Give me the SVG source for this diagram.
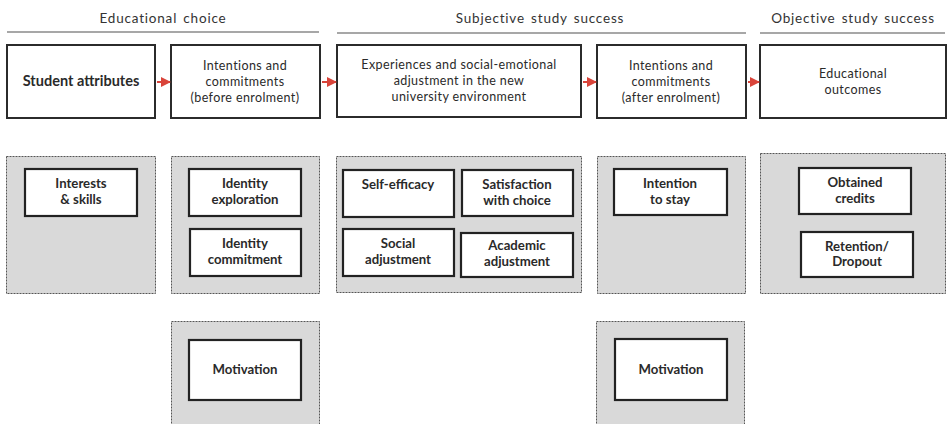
<svg xmlns="http://www.w3.org/2000/svg" width="950" height="424" viewBox="0 0 950 424">
  <defs>
    <marker id="arrow" viewBox="0 0 10 10" refX="9" refY="5" markerWidth="5" markerHeight="5" orient="auto">
      <path d="M0,0 L10,5 L0,10 z" fill="#d9443a"/>
    </marker>
    <style>
      text { font-family: Lato, "Open Sans", "Liberation Sans", sans-serif; fill: #2a2a2a; text-anchor: middle; }
      .hdr { font-size: 13.5px; fill: #333; letter-spacing: 0.8px; word-spacing: 2px; }
      .rule { stroke: #8a8a8a; stroke-width: 1.5; }
      .main { fill: #fff; stroke: #2b2b2b; stroke-width: 2; }
      .lbl { font-size: 12.5px; letter-spacing: 0.4px; }
      .big { font-size: 14.5px; font-weight: 700; }
      .panel { fill: #d9d9d9; stroke: #555; stroke-width: 1; stroke-dasharray: 2 1; }
      .inner { fill: #fff; stroke: #222; stroke-width: 2.2; }
      .in { font-size: 13.2px; font-weight: 700; }
      .conn { stroke: #d9443a; stroke-width: 2; fill: none; marker-end: url(#arrow); }
    </style>
  </defs>

  <!-- section headings -->
  <g id="headings">
    <text class="hdr" x="163" y="23">Educational choice</text>
    <line class="rule" x1="7" y1="32" x2="319" y2="32"/>
    <text class="hdr" x="540" y="23">Subjective study success</text>
    <line class="rule" x1="337" y1="33" x2="746" y2="33"/>
    <text class="hdr" x="853" y="23">Objective study success</text>
    <line class="rule" x1="760" y1="33" x2="945" y2="33"/>
  </g>

  <!-- top row of stages -->
  <g id="student-attributes">
    <rect class="main" x="7" y="45" width="148" height="73"/>
    <text class="big" x="81" y="86">Student attributes</text>
  </g>
  <g id="intentions-before">
    <rect class="main" x="171" y="45" width="149" height="73"/>
    <text class="lbl" x="245" y="70">Intentions  and</text>
    <text class="lbl" x="245" y="86">commitments</text>
    <text class="lbl" x="245" y="102">(before enrolment)</text>
  </g>
  <g id="experiences">
    <rect class="main" x="337" y="45" width="244" height="72"/>
    <text class="lbl" x="459" y="69">Experiences and social-emotional</text>
    <text class="lbl" x="459" y="85">adjustment in the new</text>
    <text class="lbl" x="459" y="101">university environment</text>
  </g>
  <g id="intentions-after">
    <rect class="main" x="597" y="45" width="149" height="73"/>
    <text class="lbl" x="671" y="70">Intentions  and</text>
    <text class="lbl" x="671" y="86">commitments</text>
    <text class="lbl" x="671" y="102">(after enrolment)</text>
  </g>
  <g id="educational-outcomes">
    <rect class="main" x="760" y="45" width="186" height="73"/>
    <text class="lbl" x="853" y="78">Educational</text>
    <text class="lbl" x="853" y="94">outcomes</text>
  </g>

  <!-- connectors between stages -->
  <g id="connectors">
    <line class="conn" x1="157" y1="82" x2="170" y2="82"/>
    <line class="conn" x1="322" y1="82" x2="336" y2="82"/>
    <line class="conn" x1="583" y1="82" x2="596" y2="82"/>
    <line class="conn" x1="748" y1="82" x2="759" y2="82"/>
  </g>

  <!-- factor panels -->
  <g id="panel-attributes">
    <rect class="panel" x="6.5" y="156.5" width="149" height="137"/>
    <g id="interests-skills">
      <rect class="inner" x="25" y="169" width="112" height="47"/>
      <text class="in" x="81" y="188">Interests</text>
      <text class="in" x="81" y="204">&amp; skills</text>
    </g>
  </g>

  <g id="panel-before">
    <rect class="panel" x="171.5" y="156.5" width="148" height="137"/>
    <g id="identity-exploration">
      <rect class="inner" x="189" y="169" width="112" height="47"/>
      <text class="in" x="245" y="188">Identity</text>
      <text class="in" x="245" y="204">exploration</text>
    </g>
    <g id="identity-commitment">
      <rect class="inner" x="190" y="229" width="111" height="47"/>
      <text class="in" x="245" y="248">Identity</text>
      <text class="in" x="245" y="264">commitment</text>
    </g>
  </g>

  <g id="panel-experiences">
    <rect class="panel" x="336.5" y="156.5" width="245" height="136"/>
    <g id="self-efficacy">
      <rect class="inner" x="343" y="170" width="111" height="47"/>
      <text class="in" x="398" y="189">Self-efficacy</text>
    </g>
    <g id="satisfaction">
      <rect class="inner" x="462" y="170" width="111" height="46"/>
      <text class="in" x="517" y="189">Satisfaction</text>
      <text class="in" x="517" y="205">with choice</text>
    </g>
    <g id="social-adjustment">
      <rect class="inner" x="343" y="229" width="111" height="47"/>
      <text class="in" x="398" y="248">Social</text>
      <text class="in" x="398" y="264">adjustment</text>
    </g>
    <g id="academic-adjustment">
      <rect class="inner" x="461" y="233" width="112" height="44"/>
      <text class="in" x="517" y="250">Academic</text>
      <text class="in" x="517" y="266">adjustment</text>
    </g>
  </g>

  <g id="panel-after">
    <rect class="panel" x="597.5" y="156.5" width="148" height="137"/>
    <g id="intention-stay">
      <rect class="inner" x="614" y="169" width="113" height="46"/>
      <text class="in" x="670" y="188">Intention</text>
      <text class="in" x="670" y="204">to stay</text>
    </g>
  </g>

  <g id="panel-outcomes">
    <rect class="panel" x="760.5" y="153.5" width="185" height="140"/>
    <g id="obtained-credits">
      <rect class="inner" x="799" y="168" width="112" height="46"/>
      <text class="in" x="855" y="187">Obtained</text>
      <text class="in" x="855" y="203">credits</text>
    </g>
    <g id="retention-dropout">
      <rect class="inner" x="801" y="232" width="112" height="45"/>
      <text class="in" x="857" y="251">Retention/</text>
      <text class="in" x="857" y="266">Dropout</text>
    </g>
  </g>

  <!-- motivation panels -->
  <g id="panel-motivation-before">
    <rect class="panel" x="171.5" y="321.5" width="148" height="104"/>
    <g id="motivation-before">
      <rect class="inner" x="189" y="340" width="112" height="60"/>
      <text class="in" x="245" y="374">Motivation</text>
    </g>
  </g>
  <g id="panel-motivation-after">
    <rect class="panel" x="596.5" y="321.5" width="148" height="104"/>
    <g id="motivation-after">
      <rect class="inner" x="615" y="339" width="112" height="61"/>
      <text class="in" x="671" y="374">Motivation</text>
    </g>
  </g>
</svg>
